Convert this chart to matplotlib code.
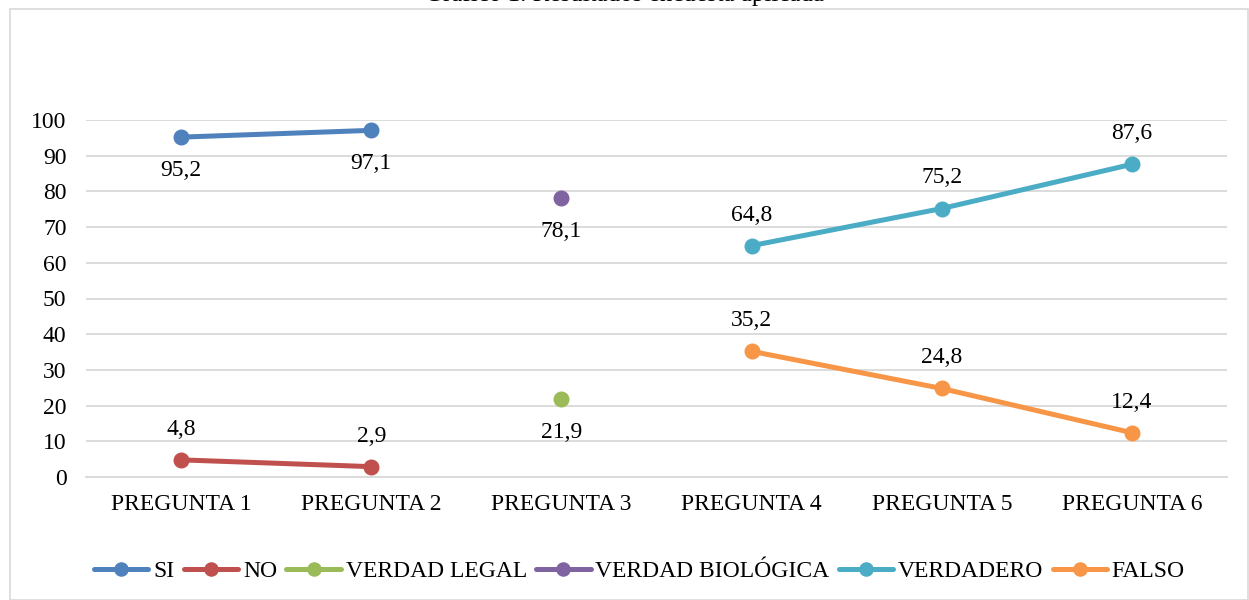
import matplotlib
matplotlib.use("Agg")
import matplotlib.pyplot as plt
from matplotlib.patches import Rectangle
import numpy as np

categories = ["PREGUNTA 1", "PREGUNTA 2", "PREGUNTA 3", "PREGUNTA 4", "PREGUNTA 5", "PREGUNTA 6"]
series_names = ["SI", "NO", "VERDAD LEGAL", "VERDAD BIOLÓGICA", "VERDADERO", "FALSO"]
si = [95.2, 97.1, None, None, None, None]
no = [4.8, 2.9, None, None, None, None]
verdad_legal = [None, None, 21.9, None, None, None]
verdad_bio = [None, None, 78.1, None, None, None]
verdadero = [None, None, None, 64.8, 75.2, 87.6]
falso = [None, None, None, 35.2, 24.8, 12.4]
colors = ["#4F81BD", "#C0504D", "#9BBB59", "#8064A2", "#4BACC6", "#F79646"]
label_pos = ["below", "above", "below", "below", "above", "above"]

plt.rcParams['font.family'] = ['Liberation Serif', 'DejaVu Serif']

W, H = 1249, 600
fig = plt.figure(figsize=(W/100, H/100), dpi=100)
fig.patches.append(Rectangle((10/W, 0), (W-11)/W, (H-9)/H, transform=fig.transFigure,
                             fill=False, edgecolor="#D9D9D9", linewidth=1.2))
fig.text(0.5, 1 - 1/H, "Gráfico 1. Resultados encuesta aplicada", ha="center", va="baseline",
         fontsize=18)

ax = fig.add_axes([86/W, 1 - 477/H, (1227-86)/W, (477-120)/H])
x = np.arange(len(categories))
all_series = [si, no, verdad_legal, verdad_bio, verdadero, falso]
for name, vals, c, pos in zip(series_names, all_series, colors, label_pos):
    xs = [xi for xi, v in zip(x, vals) if v is not None]
    ys = [v for v in vals if v is not None]
    ax.plot(xs, ys, color=c, linewidth=3.6, marker="o", markersize=10.5, label=name,
            solid_capstyle="round", zorder=3)
    for xi, yi in zip(xs, ys):
        off = 22 if pos == "above" else -24
        ax.annotate(f"{yi:.1f}".replace(".", ","), (xi, yi), xytext=(0, off),
                    textcoords="offset points", ha="center", va="center", fontsize=17)

ax.set_xlim(-0.5, len(categories) - 0.5)
ax.set_ylim(0, 100)
ax.set_yticks(range(0, 101, 10))
ax.set_xticks(x)
ax.set_xticklabels(categories)
ax.tick_params(axis="both", length=0, labelsize=17)
ax.tick_params(axis="x", pad=12)
ax.tick_params(axis="y", pad=14)
ax.grid(axis="y", color="#D9D9D9", linewidth=1.3)
ax.set_axisbelow(True)
for s in ["top", "right", "left"]:
    ax.spines[s].set_visible(False)
ax.spines["bottom"].set_color("#D9D9D9")
ax.spines["bottom"].set_linewidth(1.3)

fig.legend(loc="center", bbox_to_anchor=(0.512, 1 - 571/H), ncol=6, frameon=False,
           fontsize=17, handlelength=2.3, handletextpad=0.2, columnspacing=0.4,
           markerscale=0.9)

fig.savefig("out.png", dpi=100)
